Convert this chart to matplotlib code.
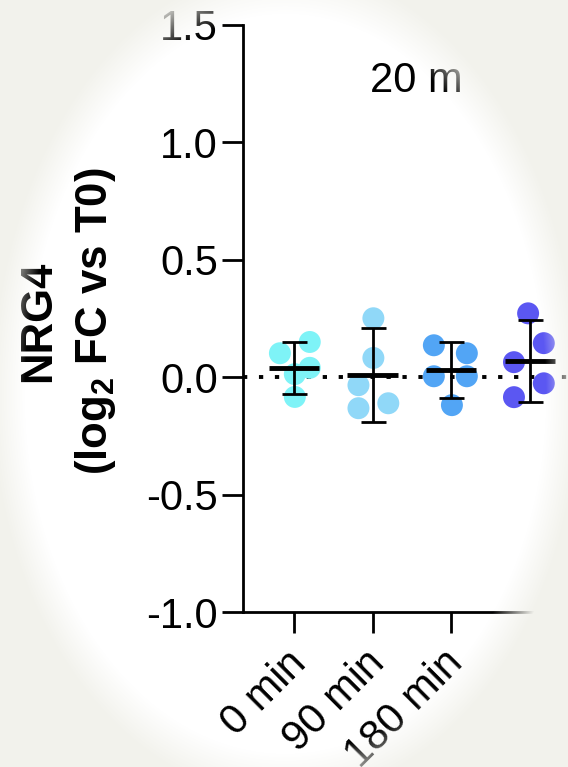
import matplotlib.pyplot as plt
import numpy as np
from matplotlib import transforms

plt.rcParams['font.family'] = ['Liberation Sans', 'DejaVu Sans']
plt.rcParams['mathtext.fontset'] = 'custom'
plt.rcParams['mathtext.rm'] = 'Liberation Sans:bold'
plt.rcParams['mathtext.bf'] = 'Liberation Sans:bold'

# values (log2 FC vs T0)
groups = ["0 min", "90 min", "180 min", "270 min"]
tick_labels = ["0 min", "90 min", "180 min"]
points = [
    [0.150, 0.102, 0.040, 0.013, -0.084],
    [0.251, 0.082, -0.034, -0.132, -0.111],
    [0.136, 0.102, 0.004, 0.004, -0.119],
    [0.272, 0.145, 0.064, -0.026, -0.085],
]
means = [0.040, 0.009, 0.030, 0.069]
sds = [0.110, 0.199, 0.120, 0.175]
colors = ['#7ef3f7', '#90d8f8', '#52a5f5', '#5b57f2']
# horizontal scatter offsets of the dots (layout only)
offsets = [
    [0.20, -0.18, 0.20, 0.01, 0.01],
    [0.01, 0.01, -0.18, -0.18, 0.20],
    [-0.22, 0.20, -0.22, 0.20, 0.01],
    [-0.02, 0.18, -0.20, 0.18, -0.20],
]

W, H = 568, 767
fig = plt.figure(figsize=(W / 100, H / 100), dpi=100)
fig.patch.set_facecolor('white')

ax = fig.add_axes([243 / W, 1 - 612 / H, (620 - 243) / W, (612 - 25) / H])
ax.set_facecolor('none')
x = np.arange(len(groups))

ax.axhline(0, color='black', lw=2.8, dashes=(1.1, 3.0), zorder=1)
for i in range(len(groups)):
    ax.scatter(x[i] + np.array(offsets[i]), points[i], s=250, color=colors[i],
               edgecolors='none', zorder=2)
    ax.errorbar(x[i], means[i], yerr=sds[i], fmt='none', ecolor='black',
                elinewidth=2.0, capsize=9, capthick=2.0, zorder=3)
    ax.hlines(means[i], x[i] - 0.32, x[i] + 0.32, color='black', lw=3.5, zorder=3)

ax.set_xlim(-0.65, 4.15)
ax.set_ylim(-1.0, 1.5)
ax.set_yticks([-1.0, -0.5, 0.0, 0.5, 1.0, 1.5])
ax.set_yticklabels(['-1.0', '-0.5', '0.0', '0.5', '1.0', '1.5'])
ax.set_xticks(x[:len(tick_labels)])
ax.set_xticklabels(tick_labels, rotation=45, ha='right', va='center',
                   rotation_mode='anchor')

ax.tick_params(axis='both', labelsize=30, width=2.0, length=15, pad=3)
ax.tick_params(axis='x', pad=8)
for side in ['top', 'right']:
    ax.spines[side].set_visible(False)
for side in ['left', 'bottom']:
    ax.spines[side].set_linewidth(2.0)

# shift rotated labels (after tick_params, which resets transforms)
off = transforms.ScaledTranslation(0.06, -0.13, fig.dpi_scale_trans)
for lab in ax.get_xticklabels():
    lab.set_transform(lab.get_transform() + off)

fig.text(68 / W, 1 - 321 / H, 'NRG4\n(log$_\\mathbf{2}$ FC vs T0)', rotation=90,
         ha='center', va='center', fontsize=31.5, fontweight='bold',
         multialignment='center', linespacing=1.4)
fig.text(370 / W, 1 - 92 / H, '20 m', fontsize=30, ha='left', va='baseline')

# soft oval vignette over the whole picture
bg = fig.add_axes([0, 0, 1, 1], zorder=10)
bg.axis('off')
yy, xx = np.mgrid[0:H, 0:W]
bh = np.where(yy < 395, 410, 385)
r = np.sqrt(((xx - 285) / 280) ** 2 + ((yy - 395) / bh) ** 2)
alpha = np.clip((r - 0.93) / 0.12, 0, 1)
img = np.zeros((H, W, 4))
img[..., 0] = 0xf2 / 255
img[..., 1] = 0xf2 / 255
img[..., 2] = 0xec / 255
img[..., 3] = alpha
bg.imshow(img, extent=[0, W, H, 0], aspect='auto', interpolation='bilinear')
bg.set_xlim(0, W)
bg.set_ylim(H, 0)

fig.savefig('out.png', dpi=100)
